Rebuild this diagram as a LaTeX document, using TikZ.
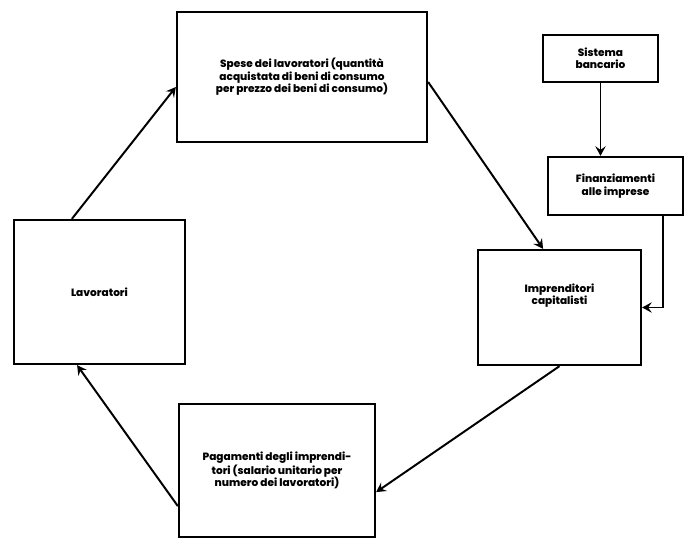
\documentclass[tikz,border=0pt]{standalone}
\usepackage{fontspec}
\setmainfont{Poppins}[BoldFont={Poppins ExtraBold}]
\usepackage{tikz}
\usepackage{xcolor}
\usetikzlibrary{positioning}
\usetikzlibrary{arrows.meta}
\tikzstyle{box} = [rectangle, draw=black, line width=1.6pt, inner sep=2pt, text centered, align=center, font=\fontsize{7.5}{8.8}\selectfont\bfseries]
\tikzstyle{arrow} = [line width=1.4pt,->,>={Stealth[length=2.4mm,width=2.6mm,inset=0.9mm]}]

\begin{document}
\begin{tikzpicture}[x=0.025cm, y=-0.025cm]
        \useasboundingbox (0,0) rectangle (700,547);
        \node (spese) [box, minimum width=6.25cm, minimum height=3.25cm] at (302,77) {Spese dei lavoratori (quantità\\acquistata di beni di consumo\\per prezzo dei beni di consumo)};
        \node (sistema) [box, minimum width=2.875cm, minimum height=1.175cm] at (600.5,58.5) {Sistema\\bancario};
        \node (finanz) [box, minimum width=3.375cm, minimum height=1.45cm] at (615.5,186) {Finanziamenti\\alle imprese};
        \node (impr) [box, minimum width=4.075cm, minimum height=2.875cm] at (559.5,307.5) {Imprenditori\\capitalisti\\[10pt]};
        \node (lavor) [box, minimum width=4.275cm, minimum height=3.6cm] at (99.5,292) {Lavoratori};
        \node (pagam) [box, minimum width=4.9cm, minimum height=3.325cm] at (277,470.5) {Pagamenti degli imprendi-\\tori (salario unitario per\\numero dei lavoratori)};

        \draw [arrow] ([xshift=-0.69cm]lavor.north) -- ([yshift=-0.25cm]spese.west);
        \draw [arrow] ([yshift=-0.125cm]spese.east) -- ([xshift=-0.41cm]impr.north);
        \draw [arrow] (impr.south) -- ([yshift=-0.54cm]pagam.east);
        \draw [arrow] ([yshift=-0.89cm]pagam.west) -- ([xshift=-0.56cm]lavor.south);
        \draw [arrow] (sistema.south) -- (sistema.south |- finanz.north);
        \draw [arrow] ([xshift=1.19cm]finanz.south) |- (impr.east);
    \end{tikzpicture}
\end{document}
